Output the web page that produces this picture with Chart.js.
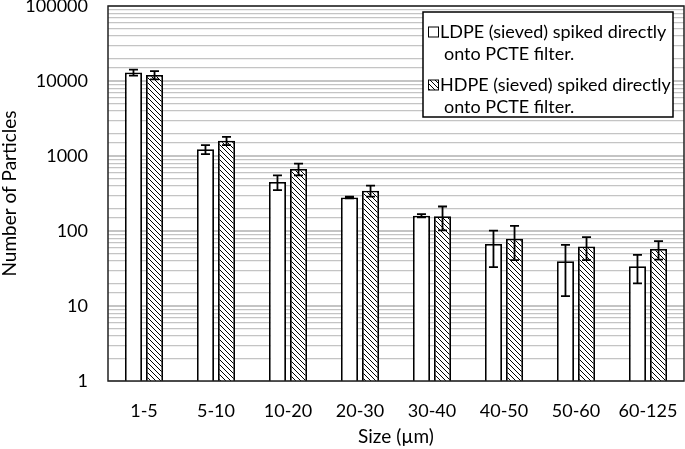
<!DOCTYPE html>
<html>
<head>
<meta charset="utf-8">
<script src="https://cdn.jsdelivr.net/npm/chart.js@4"></script>
<style>
  html, body { margin: 0; padding: 0; background: #fff; }
  #wrap { width: 685px; height: 449px; position: relative; }
</style>
</head>
<body>
<div id="wrap"><canvas id="myChart"></canvas></div>
<script>
// sizes in µm
const categories = ['1-5', '5-10', '10-20', '20-30', '30-40', '40-50', '50-60', '60-125'];

const ldpeValues = [13000, 1230, 450, 280, 160, 67, 39.5, 34];
const ldpeErrors = [1200, 170, 100, 8, 8, 34, 26, 14];

const hdpeValues = [12000, 1600, 670, 345, 157, 79, 62, 57.5];
const hdpeErrors = [1500, 200, 120, 58, 55, 38, 21, 16];

const yTickLabels = [1, 10, 100, 1000, 10000, 100000];

const legendLines = [
    ['LDPE (sieved) spiked directly', 'onto PCTE filter.'],
    ['HDPE (sieved) spiked directly', 'onto PCTE filter.']
];

const FONT = 'Lato, "Noto Sans", sans-serif';

function makeHatch() {
    const c = document.createElement('canvas');
    c.width = 5;
    c.height = 5;
    const g = c.getContext('2d');
    g.fillStyle = '#fff';
    g.fillRect(0, 0, 5, 5);
    g.strokeStyle = '#000';
    g.lineWidth = 1;
    g.beginPath();
    g.moveTo(-1, -1); g.lineTo(6, 6);
    g.moveTo(-1, 4); g.lineTo(1, 6);
    g.moveTo(4, -1); g.lineTo(6, 1);
    g.stroke();
    return g.createPattern(c, 'repeat');
}

const hatch = makeHatch();

const errorBars = {
    id: 'errorBars',
    afterDatasetsDraw(chart) {
        const ctx = chart.ctx;
        const y = chart.scales.y;
        const errs = [ldpeErrors, hdpeErrors];
        ctx.save();
        ctx.strokeStyle = '#000';
        ctx.lineWidth = 1.8;
        chart.data.datasets.forEach((ds, i) => {
            const meta = chart.getDatasetMeta(i);
            meta.data.forEach((bar, j) => {
                const v = ds.data[j];
                const e = errs[i][j];
                const top = y.getPixelForValue(v + e);
                const bot = y.getPixelForValue(Math.max(v - e, 1));
                ctx.beginPath();
                ctx.moveTo(bar.x, top); ctx.lineTo(bar.x, bot);
                ctx.moveTo(bar.x - 4.5, top); ctx.lineTo(bar.x + 4.5, top);
                ctx.moveTo(bar.x - 4.5, bot); ctx.lineTo(bar.x + 4.5, bot);
                ctx.stroke();
            });
        });
        ctx.restore();
    },
    afterDraw(chart) {
        const ctx = chart.ctx;
        const a = chart.chartArea;
        ctx.save();
        // plot frame
        ctx.strokeStyle = '#222';
        ctx.lineWidth = 1.5;
        ctx.strokeRect(a.left, a.top, a.right - a.left, a.bottom - a.top);

        // legend box
        const bx = 423, by = 12, bw = 250, bh = 105;
        ctx.fillStyle = '#fff';
        ctx.fillRect(bx, by, bw, bh);
        ctx.strokeStyle = '#000';
        ctx.lineWidth = 1.5;
        ctx.strokeRect(bx, by, bw, bh);

        ctx.font = '18px ' + FONT;
        ctx.fillStyle = '#000';
        ctx.textBaseline = 'middle';
        ctx.textAlign = 'left';
        const rows = [32, 85];
        legendLines.forEach((lines, i) => {
            const ry = rows[i];
            ctx.fillStyle = i === 0 ? '#fff' : hatch;
            ctx.fillRect(428.5, ry - 5, 10, 10);
            ctx.strokeStyle = '#000';
            ctx.lineWidth = 1;
            ctx.strokeRect(428.5, ry - 5, 10, 10);
            ctx.fillStyle = '#000';
            ctx.fillText(lines[0], 440, ry);
            ctx.fillText(lines[1], 444, ry + 22);
        });
        ctx.restore();
    }
};

const ctx = document.getElementById('myChart').getContext('2d');

new Chart(ctx, {
    type: 'bar',
    data: {
        labels: categories,
        datasets: [
            {
                label: legendLines[0].join(' '),
                data: ldpeValues,
                backgroundColor: '#fff',
                borderColor: '#000',
                borderWidth: 1.8,
                barPercentage: 0.81,
                categoryPercentage: 0.585
            },
            {
                label: legendLines[1].join(' '),
                data: hdpeValues,
                backgroundColor: hatch,
                borderColor: '#000',
                borderWidth: 1.8,
                barPercentage: 0.81,
                categoryPercentage: 0.585
            }
        ]
    },
    options: {
        responsive: true,
        maintainAspectRatio: false,
        animation: false,
        layout: {
            padding: { top: 6, right: 1, left: 0, bottom: 0 }
        },
        plugins: {
            legend: { display: false },
            tooltip: { enabled: false }
        },
        scales: {
            x: {
                grid: { display: false, drawTicks: false },
                border: { display: false },
                ticks: {
                    color: '#000',
                    padding: 19,
                    font: { family: FONT, size: 18 },
                    maxRotation: 0
                },
                title: {
                    display: true,
                    text: 'Size (µm)',
                    color: '#000',
                    font: { family: FONT, size: 19, lineHeight: 1 },
                    padding: { top: 0, bottom: 3 }
                },
                afterFit(scale) {
                    scale.height = 68;
                    scale.paddingLeft = 0;
                    scale.paddingRight = 0;
                }
            },
            y: {
                type: 'logarithmic',
                min: 1,
                max: 100000,
                border: { display: false },
                grid: {
                    color: '#c4c4c4',
                    lineWidth: (c) => yTickLabels.includes(c.tick && c.tick.value) ? 2 : 1.2,
                    drawTicks: false
                },
                ticks: {
                    color: '#000',
                    padding: 20,
                    autoSkip: false,
                    font: { family: FONT, size: 18 },
                    callback: function(value) {
                        return yTickLabels.includes(value) ? String(value) : '';
                    }
                },
                title: {
                    display: true,
                    text: 'Number of Particles',
                    color: '#000',
                    font: { family: FONT, size: 19, lineHeight: 1 },
                    padding: { top: 0, bottom: 0 }
                },
                afterFit(scale) {
                    scale.width = 108;
                    scale.paddingTop = 0;
                    scale.paddingBottom = 0;
                }
            }
        }
    },
    plugins: [errorBars]
});
</script>
</body>
</html>
